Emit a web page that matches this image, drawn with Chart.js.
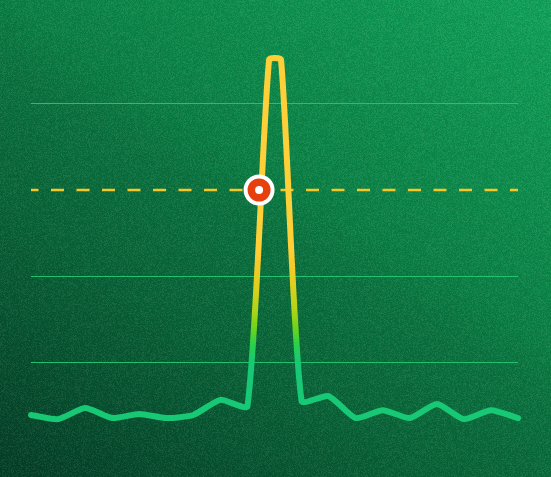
<!DOCTYPE html>
<html>
<head>
<meta charset="utf-8">
<script src="https://cdn.jsdelivr.net/npm/chart.js@4.4.1/dist/chart.umd.min.js"></script>
<style>
  html, body { margin: 0; padding: 0; background: #0a6b3c; }
  #wrap { width: 551px; height: 477px; position: relative; }
</style>
</head>
<body>
<div id="wrap"><canvas id="c" width="551" height="477"></canvas></div>
<script>
// ---- data ----
const steps = [0, 1, 2, 3, 4, 5, 6, 7, 8, 8.8, 9.24, 10, 11, 12, 13, 14, 15, 16, 17, 18];
const signal = [9.6, 8.4, 11.6, 8.7, 9.9, 8.7, 9.6, 14.0, 12.2, 112.9, 112.9, 13.7, 15.1, 8.7, 11.0, 8.7, 12.8, 8.4, 11.0, 8.7];
const threshold = 75;
const crossingX = [8.43];
const crossingY = [75];
const gridValues = [25, 50, 100];
const yMin = 0, yMax = 125, yStep = 25;

// ---- helpers ----
function hash(x, y) {
  let h = Math.imul(x, 374761393) + Math.imul(y, 668265263);
  h = Math.imul(h ^ (h >>> 13), 1274126177);
  h = h ^ (h >>> 16);
  return (h >>> 0) / 4294967296;
}
let noiseCanvas = null;
function getNoise(w, h) {
  if (noiseCanvas && noiseCanvas.width === w && noiseCanvas.height === h) return noiseCanvas;
  noiseCanvas = document.createElement('canvas');
  noiseCanvas.width = w; noiseCanvas.height = h;
  const nctx = noiseCanvas.getContext('2d');
  const img = nctx.createImageData(w, h);
  for (let y = 0; y < h; y++) {
    for (let x = 0; x < w; x++) {
      const v = hash(x, y) - 0.5;
      const i = (y * w + x) * 4;
      const c = v > 0 ? 255 : 0;
      img.data[i] = c; img.data[i + 1] = c; img.data[i + 2] = c;
      img.data[i + 3] = Math.round(Math.abs(v) * 2 * 20);
    }
  }
  nctx.putImageData(img, 0, 0);
  return noiseCanvas;
}

const backgroundPlugin = {
  id: 'bg',
  beforeDraw(chart) {
    const ctx = chart.ctx;
    const w = chart.width, h = chart.height;
    ctx.save();
    const g = ctx.createLinearGradient(100, 520, 450, -40);
    g.addColorStop(0.0, 'rgb(5,64,40)');
    g.addColorStop(0.34, 'rgb(9,100,56)');
    g.addColorStop(0.5, 'rgb(10,113,62)');
    g.addColorStop(0.6, 'rgb(11,128,69)');
    g.addColorStop(0.9, 'rgb(15,152,84)');
    g.addColorStop(1.0, 'rgb(17,160,88)');
    ctx.fillStyle = g;
    ctx.fillRect(0, 0, w, h);
    ctx.drawImage(getNoise(w, h), 0, 0);
    ctx.restore();
  }
};

function lineGradient(context) {
  const chart = context.chart;
  if (!chart.chartArea) return '#1cc67a';
  const g = chart.ctx.createLinearGradient(0, 362, 0, 250);
  g.addColorStop(0.0, '#17c874');
  g.addColorStop(0.16, '#2bd04a');
  g.addColorStop(0.30, '#6dd41a');
  g.addColorStop(0.46, '#aed418');
  g.addColorStop(0.66, '#dccf1e');
  g.addColorStop(0.9, '#f6ca2c');
  g.addColorStop(1.0, '#fdcf38');
  return g;
}

new Chart(document.getElementById('c'), {
  type: 'line',
  data: {
    datasets: [
      {
        label: 'dot',
        type: 'scatter',
        data: crossingX.map((x, i) => ({ x, y: crossingY[i] })),
        pointRadius: 4,
        pointBorderWidth: 0,
        pointBackgroundColor: '#ffffff',
        showLine: false,
        order: 0,
        clip: false
      },
      {
        label: 'crossing',
        type: 'scatter',
        data: crossingX.map((x, i) => ({ x, y: crossingY[i] })),
        pointRadius: 13.5,
        pointBorderWidth: 4,
        pointBackgroundColor: '#e8400c',
        pointBorderColor: '#ffffff',
        showLine: false,
        order: 1,
        clip: false
      },
      {
        label: 'signal',
        data: steps.map((x, i) => ({ x, y: signal[i] })),
        borderColor: lineGradient,
        borderWidth: 6,
        borderCapStyle: 'round',
        borderJoinStyle: 'round',
        tension: 0.2,
        pointRadius: 0,
        fill: false,
        order: 2,
        clip: false
      },
      {
        label: 'threshold',
        data: [{ x: steps[0], y: threshold }, { x: steps[steps.length - 1], y: threshold }],
        borderColor: '#f4c626',
        borderWidth: 2.5,
        borderDash: [13, 12.5],
        borderDashOffset: 5.5,
        pointRadius: 0,
        fill: false,
        order: 3
      }
    ]
  },
  options: {
    responsive: false,
    animation: false,
    events: [],
    layout: { padding: { left: 31, right: 33, top: 18, bottom: 29 } },
    plugins: { legend: { display: false }, tooltip: { enabled: false } },
    scales: {
      x: {
        type: 'linear',
        min: steps[0],
        max: steps[steps.length - 1],
        grid: { display: false, drawTicks: false },
        border: { display: false },
        ticks: { display: false }
      },
      y: {
        min: yMin,
        max: yMax,
        ticks: { display: false, stepSize: yStep },
        border: { display: false },
        grid: {
          drawTicks: false,
          lineWidth: 1,
          color: (ctx) => gridValues.includes(ctx.tick && ctx.tick.value) ? 'rgba(38,196,112,0.95)' : 'rgba(0,0,0,0)'
        }
      }
    }
  },
  plugins: [backgroundPlugin]
});
</script>
</body>
</html>
